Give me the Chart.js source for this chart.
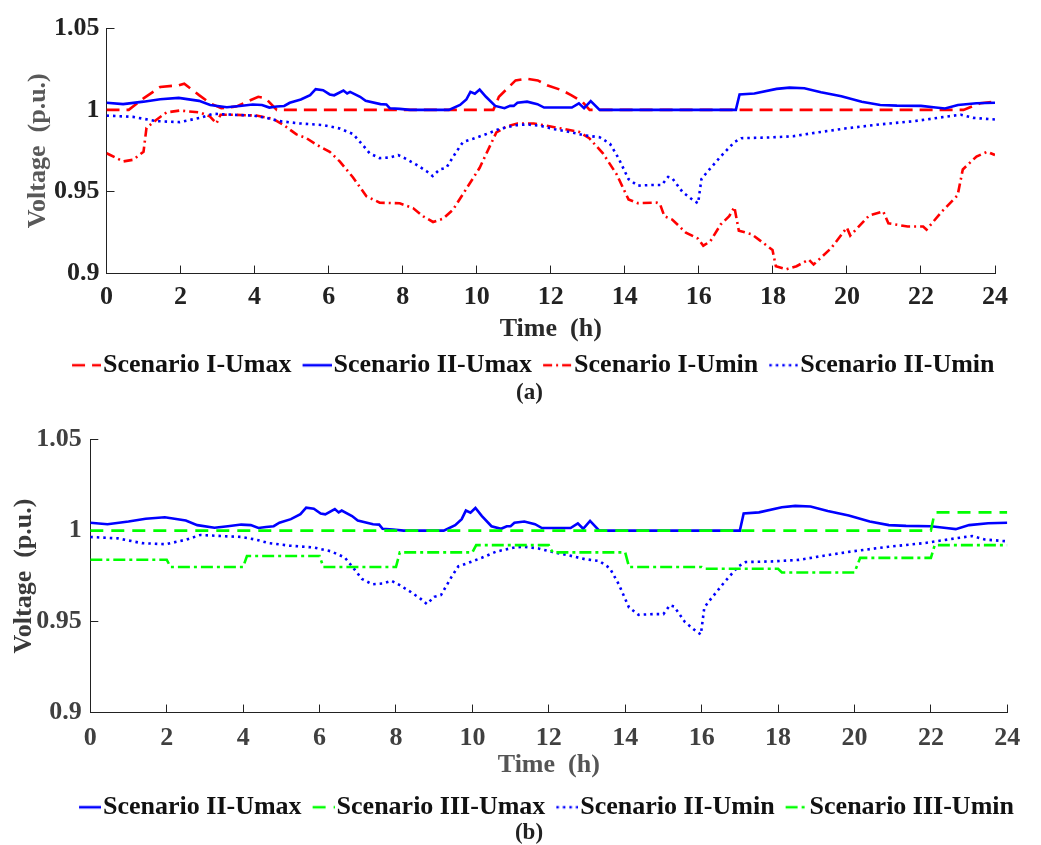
<html>
  <head>
    <script src="https://cdn.jsdelivr.net/npm/chart.js"></script>
    <style>
      body { margin: 0; background: #fff; }
      canvas { display: block; }
    </style>
  </head>
  <body>
    <canvas id="graph-a" width="1041" height="410"></canvas>
    <canvas id="graph-b" width="1041" height="435"></canvas>
    <script>
      // [hour, voltage p.u.]
      const scen1Umax = [[0,1.000],[0.6,1.000],[1.0,1.007],[1.45,1.014],[1.95,1.015],[2.1,1.016],[2.5,1.009],[2.8,1.004],[3.1,1.001],[3.5,1.002],[3.9,1.006],[4.1,1.008],[4.3,1.007],[4.6,1.000],[10.45,1.000],[10.6,1.008],[11.05,1.018],[11.35,1.019],[11.65,1.018],[11.9,1.015],[12.3,1.012],[12.55,1.009],[12.85,1.005],[13.05,1.000],[23.15,1.000],[23.6,1.004],[24,1.005]];

      const scen2Umax = [[0,1.0043],[0.45,1.0035],[1.0,1.005],[1.45,1.0065],[1.95,1.0073],[2.5,1.0055],[2.8,1.003],[3.25,1.0016],[3.6,1.0024],[3.95,1.0033],[4.2,1.003],[4.4,1.0014],[4.6,1.002],[4.8,1.0024],[4.95,1.0043],[5.25,1.0063],[5.5,1.009],[5.65,1.0126],[5.85,1.012],[6.03,1.0094],[6.15,1.0089],[6.4,1.0118],[6.5,1.0100],[6.58,1.011],[6.85,1.008],[7.0,1.0055],[7.4,1.0035],[7.56,1.0033],[7.65,1.001],[7.92,1.0006],[8.2,1.0],[9.25,1.0],[9.55,1.003],[9.72,1.0063],[9.83,1.011],[9.95,1.0098],[10.08,1.0124],[10.25,1.008],[10.5,1.0024],[10.75,1.001],[10.9,1.0024],[11.0,1.0024],[11.1,1.0043],[11.36,1.005],[11.64,1.0035],[11.82,1.0014],[12.2,1.0014],[12.57,1.0014],[12.76,1.004],[12.9,1.001],[13.08,1.0053],[13.32,1.0],[17.0,1.0],[17.1,1.0094],[17.5,1.01],[18.1,1.0128],[18.45,1.0136],[18.85,1.0132],[19.3,1.0108],[19.85,1.0083],[20.4,1.005],[20.9,1.003],[21.35,1.0026],[22.0,1.0024],[22.4,1.0014],[22.65,1.0008],[23.0,1.003],[23.5,1.004],[24,1.0043]];

      const scen1Umin = [[0,0.9735],[0.1,0.9724],[0.45,0.9685],[0.72,0.9695],[1.0,0.9744],[1.08,0.989],[1.35,0.994],[1.62,0.9984],[1.98,0.9996],[2.52,0.9984],[2.79,0.996],[2.97,0.9917],[3.08,0.997],[3.42,0.997],[4.05,0.9965],[4.5,0.9945],[4.77,0.991],[5.13,0.985],[5.4,0.9827],[5.67,0.9787],[6.03,0.9744],[6.3,0.9685],[6.66,0.9587],[7.02,0.9472],[7.38,0.9433],[7.92,0.9429],[8.28,0.94],[8.55,0.935],[8.82,0.9315],[9.09,0.9335],[9.36,0.939],[9.72,0.9518],[10.08,0.9646],[10.53,0.9862],[10.8,0.9898],[11.1,0.9917],[11.54,0.9917],[12.0,0.9898],[12.76,0.9866],[13.04,0.9827],[13.41,0.9734],[13.78,0.9606],[14.1,0.9453],[14.35,0.943],[14.86,0.9433],[14.95,0.9425],[15.07,0.935],[15.28,0.933],[15.65,0.925],[15.98,0.9213],[16.12,0.917],[16.31,0.9197],[16.59,0.93],[16.82,0.935],[16.96,0.9406],[17.08,0.9262],[17.43,0.924],[17.99,0.9144],[18.08,0.9045],[18.36,0.9026],[18.64,0.9045],[18.97,0.9085],[19.1,0.9055],[19.57,0.9154],[20.0,0.9281],[20.09,0.9232],[20.6,0.9354],[20.98,0.938],[21.12,0.9307],[21.64,0.9287],[22.06,0.9287],[22.15,0.9268],[22.57,0.938],[22.99,0.9478],[23.13,0.9636],[23.5,0.9715],[23.79,0.9744],[24,0.9724]];

      const scen2Umin = [[0,0.9965],[0.72,0.9957],[1.35,0.9931],[1.98,0.9925],[2.52,0.9951],[2.88,0.9976],[3.42,0.997],[3.96,0.9965],[4.32,0.9951],[4.68,0.9931],[5.22,0.9917],[5.85,0.9907],[6.3,0.9886],[6.66,0.9852],[6.93,0.9783],[7.11,0.9734],[7.38,0.9705],[7.65,0.9709],[7.88,0.9724],[8.1,0.97],[8.37,0.9665],[8.64,0.9626],[8.81,0.9596],[9.0,0.9636],[9.18,0.9646],[9.45,0.9744],[9.63,0.9803],[9.9,0.9823],[10.26,0.9852],[10.62,0.9884],[11.07,0.9906],[11.36,0.9911],[11.73,0.9902],[12.1,0.9882],[12.48,0.9866],[12.94,0.9843],[13.32,0.9833],[13.6,0.9793],[13.83,0.9705],[14.1,0.9577],[14.35,0.9537],[14.72,0.9541],[15.0,0.9541],[15.17,0.959],[15.28,0.9583],[15.56,0.9498],[15.84,0.9449],[15.98,0.9429],[16.07,0.9577],[16.21,0.9616],[16.59,0.9715],[16.96,0.9803],[17.15,0.9827],[17.9,0.9831],[18.55,0.9839],[19.2,0.9862],[19.95,0.9886],[20.89,0.9911],[21.82,0.9931],[22.76,0.9961],[23.08,0.997],[23.41,0.9951],[24,0.9941]];

      const scen3Umax = [[0,1.000],[22.0,1.000],[22.1,1.010],[24,1.010]];

      const scen3Umin = [[0,0.984],[2.0,0.984],[2.1,0.980],[4.0,0.980],[4.1,0.986],[6.0,0.986],[6.1,0.980],[8.0,0.980],[8.1,0.988],[10.0,0.988],[10.1,0.992],[12.0,0.992],[12.1,0.988],[14.0,0.988],[14.1,0.980],[16.0,0.980],[16.1,0.979],[18.0,0.979],[18.1,0.977],[20.0,0.977],[20.15,0.985],[22.0,0.985],[22.1,0.992],[24,0.992]];

      const hourTicks = [0, 24, 2];          // min, max, step
      const voltTicks = [0.9, 1.05, 0.05];

      Chart.defaults.font.family = "'Liberation Serif', 'Times New Roman', serif";
      Chart.defaults.font.weight = 'bold';

      // slide legend / caption sideways after layout (the figure's legend is not centred on the canvas)
      const legendShift = {
        id: 'legendShift',
        afterLayout(chart, args, opts) {
          if (chart.legend && opts.dx) {
            chart.legend.left += opts.dx;
            chart.legend.right += opts.dx;
          }
          if (chart.titleBlock && opts.capDx) {
            chart.titleBlock.left += opts.capDx;
            chart.titleBlock.right += opts.capDx;
          }
        }
      };

      function line(label, pairs, color, dash, idx) {
        return {
          label: label,
          data: pairs.map(p => ({x: p[0], y: p[1]})),
          borderColor: color,
          backgroundColor: color,
          borderWidth: 2.6,
          borderDash: dash,
          pointRadius: 0,
          fill: false,
          tension: 0,
          order: -idx
        };
      }

      // legend key: a short piece of the line, pushed right so it sits next to its text
      function keyGlyph(ds, w) {
        const shift = 11;
        const c = document.createElement('canvas');
        c.width = w + 2 * shift;
        c.height = 8;
        const g = c.getContext('2d');
        g.strokeStyle = ds.borderColor;
        g.lineWidth = ds.borderWidth;
        g.setLineDash(ds.borderDash);
        g.beginPath();
        g.moveTo(2 * shift, 4);
        g.lineTo(c.width, 4);
        g.stroke();
        return c;
      }

      function CreateGraph(id, datasets, caption, L) {
        var ctx = document.getElementById(id).getContext('2d');
        return new Chart(ctx, {
          type: 'line',
          data: { datasets: datasets },
          plugins: [legendShift],
          options: {
            responsive: false,
            animation: false,
            devicePixelRatio: 1,
            layout: { padding: { left: L.padLeft, right: L.padRight, top: L.padTop, bottom: L.padBottom } },
            plugins: {
              tooltip: { enabled: false },
              legendShift: { dx: L.legendDx, capDx: L.capDx },
              legend: {
                position: 'bottom',
                labels: {
                  usePointStyle: true,
                  pointStyleWidth: L.boxW,
                  padding: 0,
                  color: '#111',
                  font: { size: 26, weight: 'bold', lineHeight: 1 },
                  generateLabels: chart => Chart.defaults.plugins.legend.labels.generateLabels(chart).map(item => {
                    item.pointStyle = keyGlyph(chart.data.datasets[item.datasetIndex], L.boxW);
                    return item;
                  }),
                  sort: (a, b) => a.datasetIndex - b.datasetIndex
                }
              },
              title: {
                display: true,
                position: 'bottom',
                text: caption,
                color: '#222',
                font: { size: 23, weight: 'bold', lineHeight: 0.25 },
                padding: { top: L.capPad, bottom: 0 }
              }
            },
            scales: {
              x: {
                type: 'linear',
                min: hourTicks[0], max: hourTicks[1],
                afterFit: s => { s.height = L.xH; },
                border: { display: true, color: '#222', width: 1 },
                grid: { drawOnChartArea: false, drawTicks: true, tickLength: -8, color: '#222' },
                ticks: { stepSize: hourTicks[2], maxRotation: 0, autoSkip: false, padding: L.xTickPad, color: L.tickColor, font: { size: 26, weight: 'bold', lineHeight: 1 } },
                title: { display: true, text: 'Time  (h)', color: L.xTitleColor, font: { size: 26, weight: 'bold', lineHeight: 1 }, padding: { top: 0, bottom: L.xTitlePad } }
              },
              y: {
                min: voltTicks[0], max: voltTicks[1],
                afterFit: s => { s.width = L.yW; },
                border: { display: true, color: '#222', width: 1 },
                grid: { drawOnChartArea: false, drawTicks: true, tickLength: -8, color: '#222' },
                ticks: { stepSize: voltTicks[2], padding: L.yTickPad, color: L.tickColor, font: { size: 26, weight: 'bold', lineHeight: 1 },
                  callback: v => String(+v.toFixed(2)) },
                title: { display: true, text: 'Voltage  (p.u.)', color: L.yTitleColor, font: { size: 26, weight: 'bold', lineHeight: 1 }, padding: { top: L.yTitlePad, bottom: 0 } }
              }
            }
          }
        });
      }

      CreateGraph('graph-a', [
        line('Scenario I-Umax', scen1Umax, '#ff0000', [13, 7], 0),
        line('Scenario II-Umax', scen2Umax, '#0000ff', [], 1),
        line('Scenario I-Umin', scen1Umin, '#ff0000', [9, 4, 2, 4], 2),
        line('Scenario II-Umin', scen2Umin, '#0000ff', [2.5, 4], 3)
      ], '(a)', {
        padLeft: 40, padRight: 46, padTop: 19.3, padBottom: 14, legendDx: 10.3, capDx: 12,
        yW: 66.5, xH: 78.7, boxW: 29, capPad: 2,
        xTickPad: 18.7, yTickPad: 15, xTitlePad: 10, yTitlePad: -15,
        tickColor: '#222', xTitleColor: '#2a2a2a', yTitleColor: '#595959'
      });

      CreateGraph('graph-b', [
        line('Scenario II-Umax', scen2Umax, '#0000ff', [], 0),
        line('Scenario III-Umax', scen3Umax, '#00ff00', [13, 8], 1),
        line('Scenario II-Umin', scen2Umin, '#0000ff', [2.5, 4], 2),
        line('Scenario III-Umin', scen3Umin, '#00ff00', [12, 4, 3, 4], 3)
      ], '(b)', {
        padLeft: 30, padRight: 27, padTop: 28.3, padBottom: 9, legendDx: 19, capDx: 7,
        yW: 60.3, xH: 81.7, boxW: 22, capPad: 0,
        xTickPad: 20.7, yTickPad: 16.6, xTitlePad: 16, yTitlePad: -19,
        tickColor: '#404040', xTitleColor: '#555', yTitleColor: '#3a3a3a'
      });
    </script>
  </body>
</html>
